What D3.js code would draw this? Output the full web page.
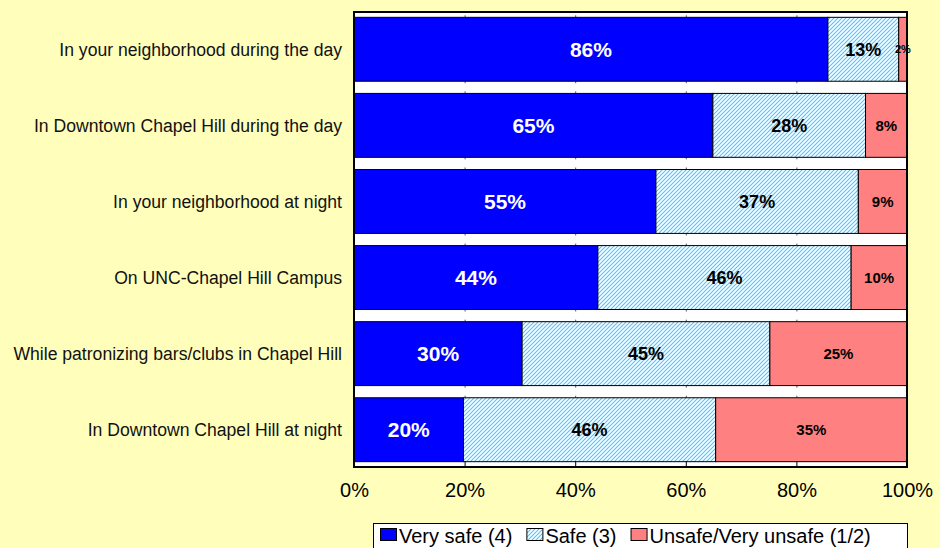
<!DOCTYPE html>
<html>
<head>
<meta charset="utf-8">
<script src="https://cdn.jsdelivr.net/npm/d3@7"></script>
<style>
  body { margin: 0; background: #FFFFBB; }
  svg { display: block; font-family: "Liberation Sans", Arial, sans-serif; }
</style>
</head>
<body>
<svg id="chart" width="940" height="548"></svg>
<script>
const categories = [
  "In your neighborhood during the day",
  "In Downtown Chapel Hill during the day",
  "In your neighborhood at night",
  "On UNC-Chapel Hill Campus",
  "While patronizing bars/clubs in Chapel Hill",
  "In Downtown Chapel Hill at night"
];
const seriesNames = ["Very safe (4)", "Safe (3)", "Unsafe/Very unsafe (1/2)"];
const verySafe = [85.7, 64.9, 54.6, 44.1, 30.4, 19.8];
const safe     = [12.8, 27.6, 36.6, 45.8, 44.8, 45.6];
const unsafe   = [1.5, 7.5, 8.8, 10.1, 24.8, 34.6];
const xTicks = [0, 0.2, 0.4, 0.6, 0.8, 1];

const width = 940, height = 548;
const plot = { left: 354, right: 907, top: 12, bottom: 467 };

const svg = d3.select("#chart");
svg.append("rect").attr("width", width).attr("height", height).attr("fill", "#FFFFBB");

// hatch pattern for "Safe"
const defs = svg.append("defs");
const pat = defs.append("pattern").attr("id", "hatch")
  .attr("patternUnits", "userSpaceOnUse").attr("width", 4).attr("height", 4);
pat.append("rect").attr("width", 4).attr("height", 4).attr("fill", "#fff");
pat.append("path").attr("d", "M-1,1 l2,-2 M0,4 l4,-4 M3,5 l2,-2")
  .attr("stroke", "#4CC4FF").attr("stroke-width", 1.1);

const keys = ["vs", "s", "u"];
const fills = { vs: "#0000FF", s: "url(#hatch)", u: "#FF8080" };
const table = categories.map((c, i) => ({ cat: c, vs: verySafe[i], s: safe[i], u: unsafe[i] }));
const stacked = d3.stack().keys(keys).offset(d3.stackOffsetExpand)(table);

const x = d3.scaleLinear().domain([0, 1]).range([plot.left, plot.right]);
const y = d3.scaleBand().domain(categories).range([plot.top, plot.bottom])
  .paddingInner(0.16).paddingOuter(0.07);

// plot background
svg.append("rect")
  .attr("x", plot.left).attr("y", plot.top)
  .attr("width", plot.right - plot.left).attr("height", plot.bottom - plot.top)
  .attr("fill", "#fff");

// small grid marks visible in the gaps
const marks = svg.append("g").attr("stroke", "#555").attr("stroke-width", 1);
xTicks.slice(1, -1).forEach(t => {
  categories.forEach((c, i) => {
    marks.append("line").attr("x1", x(t) + 0.5).attr("x2", x(t) + 0.5)
      .attr("y1", y(c) - 2).attr("y2", y(c));
    if (i < categories.length - 1) {
      marks.append("line").attr("x1", x(t) + 0.5).attr("x2", x(t) + 0.5)
        .attr("y1", y(c) + y.bandwidth()).attr("y2", y(c) + y.bandwidth() + 2);
    }
  });
});

// bars
const layer = svg.append("g").selectAll("g").data(stacked).join("g")
  .attr("fill", d => fills[d.key]);
layer.selectAll("rect").data(d => d).join("rect")
  .attr("x", d => x(d[0]))
  .attr("y", d => y(d.data.cat))
  .attr("width", d => x(d[1]) - x(d[0]))
  .attr("height", y.bandwidth())
  .attr("stroke", "#000").attr("stroke-width", 1);

// value labels
const labelStyle = {
  vs: { color: "#fff", size: 21 },
  s: { color: "#000", size: 18 },
  u: { color: "#000", size: 15 }
};
const raw = { vs: verySafe, s: safe, u: unsafe };
stacked.forEach(series => {
  svg.append("g").selectAll("text").data(series).join("text")
    .attr("x", d => (x(d[0]) + x(d[1])) / 2)
    .attr("y", d => y(d.data.cat) + y.bandwidth() / 2)
    .attr("dy", "0.36em")
    .attr("text-anchor", "middle")
    .attr("font-weight", "bold")
    .attr("font-size", d => (x(d[1]) - x(d[0]) < 15 ? 11 : labelStyle[series.key].size))
    .attr("fill", labelStyle[series.key].color)
    .text((d, i) => Math.round(raw[series.key][i]) + "%");
});

// category labels
svg.append("g").selectAll("text").data(categories).join("text")
  .attr("x", 342)
  .attr("y", d => y(d) + y.bandwidth() / 2)
  .attr("dy", "0.36em")
  .attr("text-anchor", "end")
  .attr("font-size", 17.6)
  .attr("fill", "#111")
  .text(d => d);

// x axis
const xAxis = svg.append("g").attr("transform", `translate(0,${plot.bottom})`)
  .call(d3.axisBottom(x).tickValues(xTicks).tickFormat(d3.format(".0%")).tickSize(-6));
xAxis.select(".domain").remove();
xAxis.selectAll(".tick line").attr("stroke", "#000");
xAxis.selectAll(".tick text")
  .attr("y", 30).attr("dy", 0)
  .attr("font-size", 20)
  .attr("font-family", "Liberation Sans, Arial, sans-serif")
  .attr("fill", "#000");

// plot border
svg.append("rect")
  .attr("x", plot.left).attr("y", plot.top)
  .attr("width", plot.right - plot.left).attr("height", plot.bottom - plot.top)
  .attr("fill", "none").attr("stroke", "#000").attr("stroke-width", 2);

// legend
const legend = svg.append("g");
legend.append("rect").attr("x", 373.5).attr("y", 523.5).attr("width", 534).attr("height", 40)
  .attr("fill", "#fff").attr("stroke", "#000").attr("stroke-width", 1);
let cx = 380;
keys.forEach((k, i) => {
  legend.append("rect").attr("x", cx + 0.5).attr("y", 528.5).attr("width", 16).attr("height", 12)
    .attr("fill", fills[k]).attr("stroke", "#000").attr("stroke-width", 1);
  const t = legend.append("text").attr("x", cx + 19).attr("y", 542.5)
    .attr("font-size", 20).attr("fill", "#000").text(seriesNames[i]);
  cx += 19 + t.node().getComputedTextLength() + 14;
});
</script>
</body>
</html>
